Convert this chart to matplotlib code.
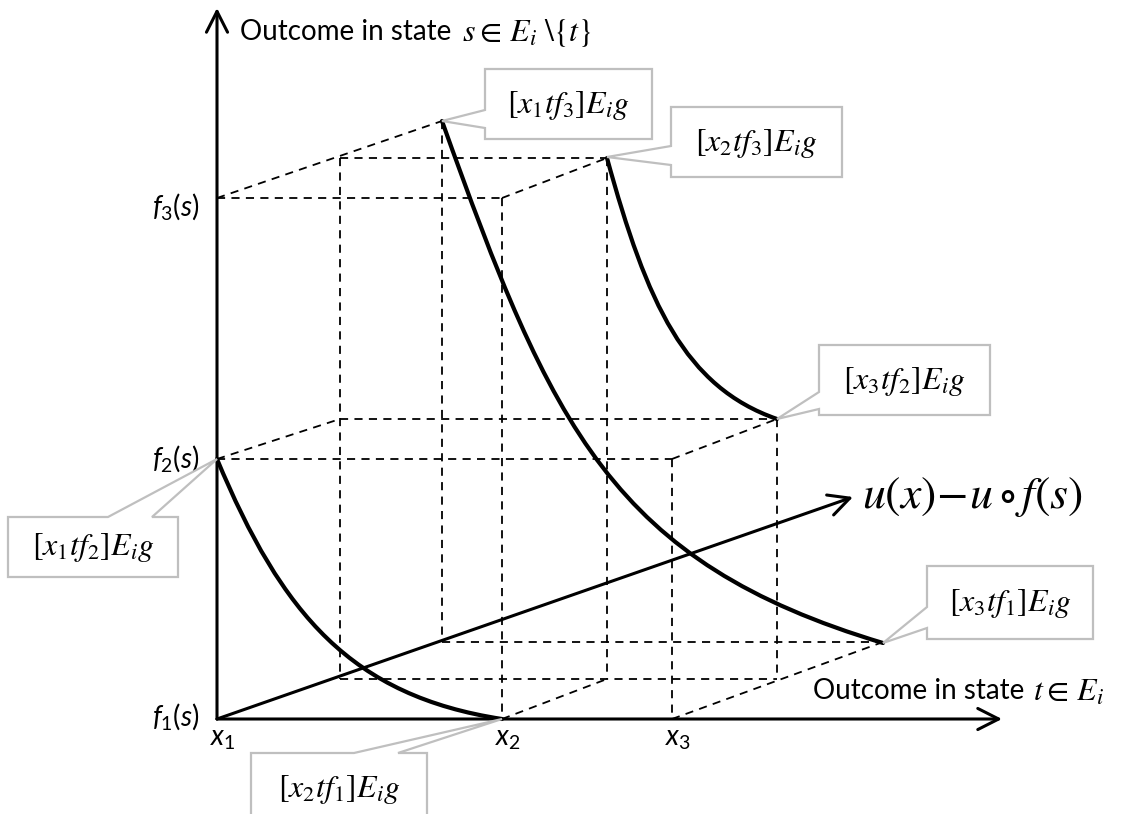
import matplotlib
matplotlib.use("Agg")
import matplotlib.pyplot as plt
from matplotlib.path import Path
from matplotlib.patches import PathPatch, Polygon

# posiciones (pixeles) de x1, x2, x3 en el eje t y de f1, f2, f3 en el eje s
x_t = [217, 502, 672]
f_s = [719, 459, 198]
x_names = [r"$x_1$", r"$x_2$", r"$x_3$"]
f_names = [r"$f_1(s)$", r"$f_2(s)$", r"$f_3(s)$"]

# los mismos puntos desplazados hacia atras (eje u(x) - u o f(s))
x_back_a = [340, 607, 777]
rise_a = 40
x_back_b = [442, 883]
rise_b = 77

# curvas (bezier cubicas: inicio, control, control, fin)
curves = [
    [(217, 459), (282, 615), (352, 696), (502, 719)],
    [(442, 121), (552, 429), (613, 562), (883, 643)],
    [(607, 158), (647, 304), (685, 387), (777, 419)],
]

# globos: caja (x0, y0, x1, y1), punta, lado del pico, base del pico, texto
callouts = [
    ((485, 69, 652, 139), (442, 121), "left", (110, 128), r"$\left[x_1 t f_3\right]E_i g$"),
    ((671, 107, 842, 177), (607, 157), "left", (146, 165), r"$\left[x_2 t f_3\right]E_i g$"),
    ((819, 345, 990, 415), (777, 419), "left", (392, 409), r"$\left[x_3 t f_2\right]E_i g$"),
    ((927, 566, 1093, 639), (883, 643), "left", (607, 628), r"$\left[x_3 t f_1\right]E_i g$"),
    ((8, 517, 178, 577), (217, 459), "top", (108, 152), r"$\left[x_1 t f_2\right]E_i g$"),
    ((251, 753, 427, 840), (502, 719), "top", (354, 398), r"$\left[x_2 t f_1\right]E_i g$"),
]

plt.rcParams['font.family'] = ['Lato', 'DejaVu Sans']
plt.rcParams['mathtext.fontset'] = 'custom'
plt.rcParams['mathtext.rm'] = 'Lato'
plt.rcParams['mathtext.it'] = 'Lato:italic'

fig = plt.figure(figsize=(11.26, 8.14), dpi=100)
ax = fig.add_axes([0, 0, 1, 1])
ax.set_xlim(0, 1126)
ax.set_ylim(814, 0)
ax.axis('off')

# ejes con flecha abierta
head = dict(arrowstyle='->,head_length=0.75,head_width=0.38', lw=2.2, color='black',
            shrinkA=0, shrinkB=0, mutation_scale=20)
ax.annotate('', xy=(x_t[0], 8), xytext=(x_t[0], f_s[0]), arrowprops=head)
ax.annotate('', xy=(1002, f_s[0]), xytext=(x_t[0], f_s[0]), arrowprops=head)
ax.annotate('', xy=(853, 497), xytext=(x_t[0], f_s[0]), arrowprops=head)

# lineas discontinuas
dash = dict(color='black', lw=1.3, dashes=(4.5, 3.5))
ya = [f - rise_a for f in f_s]
yb = [f - rise_b for f in f_s]
# plano frontal
ax.plot([x_t[0], x_t[1]], [f_s[2], f_s[2]], **dash)
ax.plot([x_t[1], x_t[1]], [f_s[2], f_s[0]], **dash)
ax.plot([x_t[0], x_t[2]], [f_s[1], f_s[1]], **dash)
ax.plot([x_t[2], x_t[2]], [f_s[1], f_s[0]], **dash)
# hacia atras
ax.plot([x_t[0], x_back_b[0]], [f_s[2], yb[2]], **dash)
ax.plot([x_t[1], x_back_a[1]], [f_s[2], ya[2]], **dash)
ax.plot([x_t[0], x_back_a[0]], [f_s[1], ya[1]], **dash)
ax.plot([x_t[2], x_back_a[2]], [f_s[1], ya[1]], **dash)
ax.plot([x_t[1], x_back_a[1]], [f_s[0], ya[0]], **dash)
ax.plot([x_t[2], x_back_b[1]], [f_s[0], yb[0]], **dash)
# plano a
ax.plot([x_back_a[0], x_back_a[1]], [ya[2], ya[2]], **dash)
ax.plot([x_back_a[0], x_back_a[0]], [ya[2], ya[0]], **dash)
ax.plot([x_back_a[1], x_back_a[1]], [ya[2], ya[0]], **dash)
ax.plot([x_back_a[0], x_back_a[2]], [ya[1], ya[1]], **dash)
ax.plot([x_back_a[2], x_back_a[2]], [ya[1], ya[0]], **dash)
ax.plot([x_back_a[0], x_back_a[2]], [ya[0], ya[0]], **dash)
# plano b
ax.plot([x_back_b[0], x_back_b[0]], [yb[2], yb[0]], **dash)
ax.plot([x_back_b[0], x_back_b[1]], [yb[0], yb[0]], **dash)

# curvas gruesas
for c in curves:
    p = Path(c, [Path.MOVETO, Path.CURVE4, Path.CURVE4, Path.CURVE4])
    ax.add_patch(PathPatch(p, fill=False, lw=3, edgecolor='black', capstyle='round', zorder=3))

# globos
for (x0, y0, x1, y1), tip, side, base, label in callouts:
    if side == "left":
        pts = [(x0, y0), (x1, y0), (x1, y1), (x0, y1), (x0, base[1]), tip, (x0, base[0])]
    else:
        pts = [(x0, y0), (base[0], y0), tip, (base[1], y0), (x1, y0), (x1, y1), (x0, y1)]
    ax.add_patch(Polygon(pts, closed=True, facecolor='white', edgecolor='#BFBFBF', lw=1.6, zorder=4))
    ax.text((x0 + x1) / 2, (y0 + min(y1, 823)) / 2 + 1, label, fontsize=23, ha='center', va='center',
            math_fontfamily='stix', zorder=5)

# etiquetas de ejes
for x, lab in zip(x_t, x_names):
    ax.text(x + 6, 739, lab, fontsize=20, ha='center', va='center')
f_label_y = [716, 459, 207]
for y, lab in zip(f_label_y, f_names):
    ax.text(200, y, lab, fontsize=20, ha='right', va='center')

# titulos de los ejes: texto normal y, justo despues, la formula
t1 = ax.text(240, 32, "Outcome in state", fontsize=20, ha='left', va='center')
ax.annotate(r"$s\in\,E_i\ \backslash\{t\}$", xy=(1, 0.5), xycoords=t1, xytext=(8, -1),
            textcoords='offset points', fontsize=23, ha='left', va='center', math_fontfamily='stix')
t2 = ax.text(813, 691, "Outcome in state", fontsize=20, ha='left', va='center')
ax.annotate(r"$t\in\,E_i$", xy=(1, 0.5), xycoords=t2, xytext=(6, -1),
            textcoords='offset points', fontsize=23, ha='left', va='center', math_fontfamily='stix')
ax.text(862, 497, r"$u\left(x\right)\!-\!u\circ f\left(s\right)$", fontsize=33, ha='left',
        va='center', math_fontfamily='stix')

plt.savefig('out.png', dpi=100)
